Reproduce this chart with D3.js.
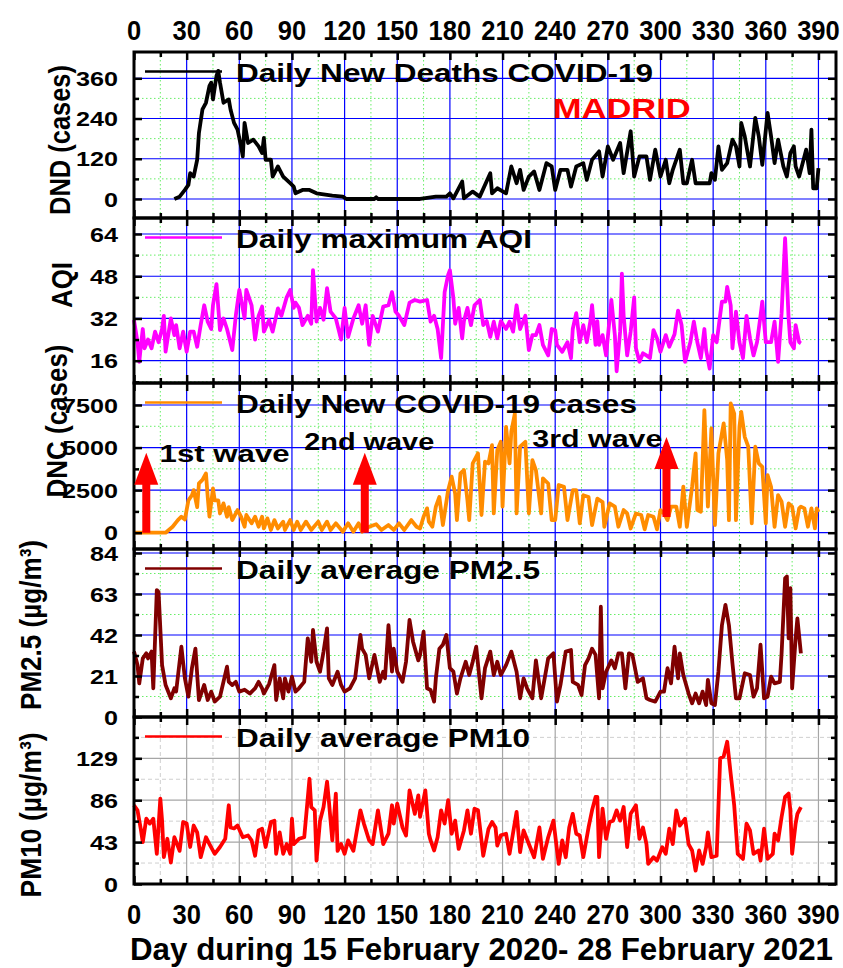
<!DOCTYPE html>
<html>
<head>
<meta charset="utf-8">
<script src="https://cdn.jsdelivr.net/npm/d3@7"></script>
<style>
body { margin: 0; background: #fff; }
text { font-family: "Liberation Sans", Arial, sans-serif; font-weight: bold; }
</style>
</head>
<body>
<div id="chart"></div>
<script>
// datos: [dia, valor]
const dndData = [[23,0],[26,7],[29,27],[31,42],[32,77],[34,67],[36,117],[37,197],[39,267],[41,287],[43,337],[44,347],[45,297],[47,367],[48,382],[49,347],[51,287],[54,297],[55,267],[57,227],[59,207],[61,157],[62,127],[63,227],[65,167],[68,177],[71,157],[73,137],[74,182],[75,117],[78,117],[79,67],[82,97],[85,67],[89,47],[91,37],[92,17],[96,27],[100,27],[104,17],[113,10],[119,7],[121,0],[137,0],[138,5],[139,0],[163,0],[172,7],[178,7],[180,17],[182,2],[187,52],[188,2],[193,22],[197,7],[203,77],[204,17],[207,32],[212,17],[215,97],[218,47],[220,87],[222,27],[225,67],[228,82],[231,27],[235,107],[238,97],[240,27],[243,87],[247,87],[249,37],[252,97],[256,107],[258,57],[261,117],[265,142],[267,67],[270,157],[273,117],[277,167],[279,77],[283,202],[285,67],[288,127],[292,127],[294,57],[297,147],[300,67],[303,117],[305,47],[307,87],[311,147],[313,47],[315,47],[318,117],[320,47],[328,47],[329,77],[331,57],[333,157],[335,87],[338,107],[341,177],[343,157],[345,97],[346,227],[348,187],[351,97],[354,242],[356,187],[358,102],[361,257],[363,187],[365,107],[367,177],[370,97],[372,67],[374,137],[376,157],[377,97],[379,67],[383,147],[385,77],[386,207],[387,32],[389,32],[390,92]]

const aqiData = [[0,31.4],[2,23],[3,15.6],[4,22],[5,28],[6,20.7],[8,24],[10,20.7],[12,27],[14,23],[16,28],[17,33],[18,19.4],[21,32],[23,25.7],[24,29.5],[26,20.7],[28,27],[30,19.4],[32,27],[34,27],[36,21.3],[38,29.5],[40,37],[42,30.8],[44,28],[45,37],[47,45],[49,27.6],[51,32],[53,28],[56,20],[58,33],[60,42.8],[63,32],[64,42.8],[67,37],[69,24],[71,33],[73,36.5],[74,27],[77,31.4],[79,27],[82,35.8],[84,33],[87,40],[89,42.8],[91,36],[92,38],[94,36],[96,29.5],[99,33],[101,30],[102,50.3],[104,30.8],[106,36],[108,31.5],[110,43.5],[112,34.6],[115,32],[118,24],[120,36],[122,25],[125,32],[128,37],[130,30],[132,37],[134,22],[136,33],[139,27],[142,36.5],[145,37],[147,42],[149,34.6],[151,33],[154,29.5],[157,38],[160,39],[163,38.4],[167,39],[169,30.8],[171,33],[173,28],[175,17],[177,42],[179,48.5],[180,50.3],[182,39.6],[183,30],[185,36],[187,24.5],[188,31],[190,36],[192,29.5],[194,37],[197,39],[199,29.5],[201,31],[203,25],[205,30.8],[207,24.5],[209,31],[212,28],[214,30.8],[216,27],[218,37],[220,28],[223,33],[225,20],[227,25.7],[229,25.7],[231,29.5],[233,22],[236,18],[238,28],[240,27.5],[241,22],[244,19.4],[247,23],[249,17],[250,28],[252,34],[254,23],[256,29.5],[258,23],[260,30.8],[261,37],[263,22],[264,31],[265,22],[267,25.7],[269,18],[272,39],[274,25.7],[275,12],[277,27],[278,49],[279,33],[281,18],[283,27],[285,40],[286,20.7],[288,15.6],[290,18.8],[292,18],[294,17],[296,27.6],[298,24.5],[300,19.4],[303,25.7],[305,21.3],[308,26],[310,35],[312,29.5],[314,15.6],[317,23],[319,30.8],[321,23],[323,17],[325,28],[326,20],[328,13],[330,25.7],[332,23],[335,38.4],[337,38.4],[338,44],[340,37],[341,20.7],[343,34.6],[345,23],[347,17],[349,33],[351,24.5],[353,18],[355,23],[357,33],[358,38.4],[360,23],[363,23],[365,30.8],[367,15.6],[369,34],[371,62.4],[373,32],[374,23],[376,20.7],[377,29.5],[379,23],[380,22.6]]

const dncData = [[0,0],[18,0],[22,350],[25,740],[27,940],[29,780],[31,1900],[33,2200],[34,2500],[36,1500],[37,2900],[39,3100],[41,3480],[42,2100],[43,940],[45,2600],[46,1900],[48,1900],[49,1130],[51,1720],[53,940],[54,1500],[56,740],[59,1330],[61,940],[63,350],[64,1040],[67,550],[69,940],[71,350],[73,940],[74,250],[76,840],[78,160],[80,740],[82,250],[85,650],[86,160],[89,740],[91,160],[93,650],[95,160],[98,650],[101,160],[105,650],[107,160],[110,650],[112,160],[115,550],[119,60],[122,550],[125,60],[128,550],[130,60],[134,350],[138,500],[141,160],[145,450],[148,160],[151,550],[154,160],[158,740],[161,350],[163,250],[165,940],[167,1430],[168,650],[170,350],[172,1530],[174,2100],[176,450],[179,2500],[181,3290],[183,2300],[184,740],[186,3480],[188,3680],[190,1900],[191,740],[193,4070],[194,4260],[196,4660],[198,1040],[200,4170],[202,4070],[204,5140],[205,1130],[207,4850],[209,5340],[210,1530],[212,6220],[214,4070],[215,5930],[217,7000],[218,1130],[220,5050],[223,5340],[225,1130],[227,4260],[229,3680],[232,1130],[233,3190],[236,2890],[238,740],[240,740],[242,2800],[245,2700],[247,740],[250,2500],[252,2500],[254,550],[256,2200],[259,2100],[261,450],[264,2000],[267,1800],[268,350],[271,1720],[274,1530],[276,350],[279,1330],[281,1130],[283,250],[286,1130],[289,1040],[291,200],[293,1040],[296,940],[298,200],[300,1330],[302,1130],[304,740],[306,1530],[309,1530],[311,350],[313,2700],[315,350],[318,2700],[320,4660],[321,1330],[323,1230],[325,7200],[327,1530],[329,6120],[331,450],[333,4660],[335,5830],[336,6420],[338,4260],[339,740],[340,7590],[342,7000],[343,740],[345,6220],[346,7100],[348,5630],[350,5050],[352,550],[354,5050],[356,4070],[358,3870],[360,550],[361,3380],[363,2700],[365,350],[367,2210],[369,1820],[371,350],[373,1720],[375,1530],[377,250],[379,1430],[380,1530],[382,1430],[384,350],[386,1430],[388,250],[389,1430],[390,1230]]

const pm25Data = [[0,33.5],[2,26.6],[3,17.2],[5,30],[7,32.6],[8,30],[10,33.5],[11,14.7],[13,65],[14,64],[16,26.6],[18,16.4],[21,9.6],[23,14.7],[24,13],[27,36],[29,19.8],[31,10.4],[33,25],[35,35],[37,8.7],[40,16.4],[42,8.7],[44,13],[46,7.9],[49,10.4],[53,25.8],[54,18],[56,16.4],[58,18],[60,13],[63,14],[66,12],[69,14.7],[71,18],[73,14.7],[74,12],[77,17],[80,26.6],[81,8.7],[83,19.8],[85,9.6],[86,19.8],[88,13],[90,20.7],[92,13],[94,14.7],[97,18],[99,40.3],[101,28.3],[102,44.6],[104,28.3],[106,23.2],[108,33.5],[110,45.4],[111,19.8],[113,16.4],[116,23.2],[118,16.4],[120,13],[123,14.7],[126,19.8],[129,42],[130,35],[132,31.8],[134,19.8],[137,31.8],[140,18],[142,23.2],[143,19.8],[145,47],[147,23.2],[148,35],[150,23.2],[153,18],[155,28.3],[157,49.7],[159,38.6],[162,29],[163,31.8],[165,43.7],[167,14.7],[169,13.8],[171,7.9],[172,19.8],[174,35],[176,37],[178,42],[180,25],[182,23.2],[184,12],[186,19.8],[189,28.3],[191,21.5],[193,28.3],[195,36],[198,9.6],[200,25],[203,33.5],[205,21.5],[207,28.3],[209,21.5],[212,26.6],[215,33.5],[218,23.2],[220,9.6],[222,19.8],[224,14.7],[227,9.6],[229,29],[232,9.6],[234,19.8],[236,30],[239,32.6],[241,7.9],[243,16.4],[246,33.5],[249,34.3],[250,18],[253,16.4],[255,11.3],[257,26.6],[259,30],[261,35],[263,31.8],[265,9.6],[266,56.5],[267,14.7],[269,23.2],[272,29],[274,25],[276,32.6],[278,32.6],[280,14.7],[282,32.6],[284,31.8],[287,18],[290,19.8],[292,9.6],[294,8.7],[297,7.9],[300,13],[302,13],[304,25],[306,17.2],[308,36],[310,19.8],[311,32.6],[313,21.5],[316,12],[318,7],[320,12],[322,7],[324,13],[326,6.1],[327,19],[329,7],[331,6.1],[333,23.2],[335,47],[337,57.4],[339,47],[341,27.5],[343,9.6],[345,9.6],[348,22.4],[351,21.5],[353,10.4],[355,14.7],[357,37],[359,9.6],[361,10.4],[363,20.7],[365,17.2],[368,18],[369,32.6],[371,71],[372,72],[373,40.3],[374,66],[375,14.7],[377,40.3],[378,50.5],[380,32.6]]

const pm10Data = [[0,80.8],[2,75.6],[4,55],[5,43],[7,67],[9,62],[11,67],[13,31],[15,87.7],[16,65],[17,27.5],[19,46.4],[21,22],[23,48],[26,34],[28,63.6],[30,62],[32,38],[34,60],[36,53],[38,27.5],[41,48],[43,41],[46,31],[49,38],[52,46.4],[54,80.8],[55,58],[57,57],[59,60],[62,48],[65,49.8],[67,44.7],[69,29],[71,55],[73,56.7],[75,38],[78,63.6],[80,65],[81,31],[83,53],[85,31],[87,41],[89,31],[90,67],[91,41],[94,46.4],[97,48],[100,108],[101,79],[103,75.6],[104,24],[106,65],[108,79],[110,105],[111,86],[113,44.7],[115,92.8],[116,34],[118,41],[120,31],[122,44.7],[125,34],[129,75.6],[131,62],[134,44.7],[136,41],[139,75.6],[142,41],[145,51.6],[147,80.8],[148,62],[150,82.5],[153,58],[155,49.8],[157,96],[160,72],[162,91],[163,68.8],[166,96],[168,51.6],[169,44.7],[171,34.4],[173,48],[175,75.6],[177,62],[179,86],[181,51.6],[183,65],[185,36],[188,55],[190,75.6],[192,51.6],[194,77.3],[196,75.6],[199,29],[202,56.7],[204,63.6],[206,58],[207,39.5],[209,50],[212,51.6],[214,31],[218,74],[220,32.7],[222,55],[225,41],[228,27.5],[231,58],[233,25.8],[236,48],[239,65],[242,20.6],[244,44.7],[246,27.5],[248,58],[250,72],[252,51.6],[254,49.8],[256,27.5],[259,58],[261,75.6],[263,89.4],[264,89.4],[265,27.5],[267,77.3],[269,46.4],[271,63.6],[273,65],[275,75.6],[277,65],[279,79],[281,37.8],[283,72],[286,80.8],[288,46.4],[290,58],[292,41],[293,20.6],[296,27.5],[298,24],[301,37.8],[303,31],[305,56.7],[307,41],[309,75.6],[311,60],[314,67],[316,41],[318,34.4],[320,13.8],[322,34.4],[324,20.6],[326,37.8],[327,53],[329,27.5],[332,29],[334,129],[336,131],[338,146],[340,113],[342,80.8],[344,31],[347,25.8],[349,62],[351,55],[353,31],[356,34.4],[357,24],[359,56.7],[361,25.8],[364,31],[365,51.6],[367,44.7],[369,68.8],[371,89.4],[373,92.8],[374,75.6],[375,31],[377,62],[378,72],[380,79]]

// ticks
const xTicks = [0,30,60,90,120,150,180,210,240,270,300,330,360,390]
const xMinor = [15,45,75,105,135,165,195,225,255,285,315,345,375]
const dndTicks = [0,120,240,360], dndMinor = [60,180,300]
const aqiTicks = [16,32,48,64], aqiMinor = [8,24,40,56]
const dncTicks = [0,2500,5000,7500], dncMinor = [1250,3750,6250]
const pm25Ticks = [0,21,42,63,84], pm25Minor = [10.5,31.5,52.5,73.5]
const pm10Ticks = [0,43,86,129], pm10Minor = [21.5,64.5,107.5,150.5]

// flechas de las olas: [dia, desde, hasta]
const waveArrows = [[7,0,4700],[131.5,0,4700],[303.4,920,5620]]
const waveLabels = [["1st wave",14.6,4150],["2nd wave",97,4860],["3rd wave",227,5030]]

const width = 843, height = 968
const margin = {left: 134, right: 836}

const svg = d3.select("#chart").append("svg").attr("width", width).attr("height", height)

const x = d3.scaleLinear().domain([0, 400]).range([margin.left, margin.right])

const panels = [
  {data: dndData, color: "#000000", legend: "Daily New Deaths COVID-19", legendW: 417, top: 52, bottom: 218,
   domain: [-56.7, 438.4], ticks: dndTicks, minor: dndMinor, title: "DND (cases)", titleX: 70, titleY: 140, titleW: 150},
  {data: aqiData, color: "#ff00ff", legend: "Daily maximum AQI", legendW: 296, top: 218, bottom: 383,
   domain: [7.55, 70.06], ticks: aqiTicks, minor: aqiMinor, title: "AQI", titleX: 72, titleY: 285, titleW: 46},
  {data: dncData, color: "#ff8c00", legend: "Daily New COVID-19 cases", legendW: 401, top: 383, bottom: 549,
   domain: [-957, 8792], ticks: dncTicks, minor: dncMinor, title: "DNC (cases)", titleX: 67, titleY: 421, titleW: 153},
  {data: pm25Data, color: "#800000", legend: "Daily average PM2.5", legendW: 304, top: 549, bottom: 717,
   domain: [0, 86.05], ticks: pm25Ticks, minor: pm25Minor, title: "PM2.5 (\u00b5g/m\u00b3)", titleX: 41, titleY: 625, titleW: 170},
  {data: pm10Data, color: "#ff0000", legend: "Daily average PM10", legendW: 294, top: 717, bottom: 884,
   domain: [0, 171.4], ticks: pm10Ticks, minor: pm10Minor, title: "PM10 (\u00b5g/m\u00b3)", titleX: 41, titleY: 815, titleW: 165, gray: true}
]

function drawPanel(p, i) {
  const y = d3.scaleLinear().domain(p.domain).range([p.bottom, p.top])
  p.y = y
  const g = svg.append("g")
  const majorColor = p.gray ? "#a6a6a6" : "#0000ff"
  const minorColor = p.gray ? "#cfcfcf" : "#66ee66"
  const minorDash = p.gray ? "4,3" : "1.5,2.5"

  // rejilla secundaria
  g.selectAll(".vmin").data(xMinor).join("line")
    .attr("x1", d => x(d)).attr("x2", d => x(d)).attr("y1", p.top).attr("y2", p.bottom)
    .attr("stroke", minorColor).attr("stroke-dasharray", minorDash)
  g.selectAll(".hmin").data(p.minor).join("line")
    .attr("x1", margin.left).attr("x2", margin.right).attr("y1", d => y(d)).attr("y2", d => y(d))
    .attr("stroke", minorColor).attr("stroke-dasharray", minorDash)
  // rejilla principal
  g.selectAll(".vmaj").data(xTicks.slice(1)).join("line")
    .attr("x1", d => x(d)).attr("x2", d => x(d)).attr("y1", p.top).attr("y2", p.bottom)
    .attr("stroke", majorColor).attr("stroke-width", 1.2)
  g.selectAll(".hmaj").data(p.ticks).join("line")
    .attr("x1", margin.left).attr("x2", margin.right).attr("y1", d => y(d)).attr("y2", d => y(d))
    .attr("stroke", majorColor).attr("stroke-width", 1.2)

  // serie
  g.append("path").datum(p.data)
    .attr("fill", "none").attr("stroke", p.color).attr("stroke-width", 3.8)
    .attr("stroke-linejoin", "round")
    .attr("d", d3.line().x(d => x(d[0])).y(d => y(d[1])))

  // ticks del marco (hacia dentro)
  const tickAxis = (axis, vals, size) => axis.tickValues(vals).tickSizeInner(-size).tickSizeOuter(0).tickFormat("")
  const frame = g.append("g").attr("class", "frame")
  frame.append("g").attr("transform", `translate(0,${p.bottom})`).call(tickAxis(d3.axisBottom(x), xTicks, 8))
  frame.append("g").attr("transform", `translate(0,${p.bottom})`).call(tickAxis(d3.axisBottom(x), xMinor, 5))
  frame.append("g").attr("transform", `translate(0,${p.top})`).call(tickAxis(d3.axisTop(x), xTicks, 8))
  frame.append("g").attr("transform", `translate(0,${p.top})`).call(tickAxis(d3.axisTop(x), xMinor, 5))
  frame.append("g").attr("transform", `translate(${margin.right},0)`).call(tickAxis(d3.axisRight(y), p.ticks, 8))
  frame.append("g").attr("transform", `translate(${margin.right},0)`).call(tickAxis(d3.axisRight(y), p.minor, 5))
  frame.append("g").attr("transform", `translate(${margin.left},0)`).call(tickAxis(d3.axisLeft(y), p.minor, 5))
  frame.append("g").attr("transform", `translate(${margin.left},0)`)
    .call(d3.axisLeft(y).tickValues(p.ticks).tickFormat(d => String(d)).tickSizeInner(-8).tickSizeOuter(0).tickPadding(16))
  frame.selectAll("path.domain").remove()
  frame.selectAll("line").attr("stroke", "#000").attr("stroke-width", 2.5)
  frame.selectAll("text")
    .style("font-size", "20px").style("font-family", "Liberation Sans, Arial, sans-serif").style("font-weight", "bold")
    .attr("fill", "#000").attr("dy", "0.36em")
    .attr("textLength", function() { return this.textContent.length * 14 })
    .attr("lengthAdjust", "spacingAndGlyphs")

  g.append("rect").attr("x", margin.left).attr("y", p.top)
    .attr("width", margin.right - margin.left).attr("height", p.bottom - p.top)
    .attr("fill", "none").attr("stroke", "#000").attr("stroke-width", 3)

  // leyenda
  g.append("line").attr("x1", 145).attr("x2", 222).attr("y1", p.top + 19.5).attr("y2", p.top + 19.5)
    .attr("stroke", p.color).attr("stroke-width", 2.4)
  g.append("text").attr("x", 236).attr("y", p.top + 29.5).text(p.legend)
    .style("font-size", "25px").attr("textLength", p.legendW).attr("lengthAdjust", "spacingAndGlyphs")

  // titulo del eje y
  svg.append("text")
    .attr("transform", `translate(${p.titleX},${p.titleY}) rotate(-90)`)
    .attr("text-anchor", "middle").style("font-size", "30px")
    .attr("textLength", p.titleW).attr("lengthAdjust", "spacingAndGlyphs")
    .text(p.title)
}

panels.forEach(drawPanel)

// etiquetas del eje x arriba y abajo
function xLabels(yPos) {
  svg.append("g").selectAll("text").data(xTicks).join("text")
    .attr("x", d => x(d)).attr("y", yPos).attr("text-anchor", "middle")
    .style("font-size", "27px")
    .attr("textLength", d => String(d).length * 14.2).attr("lengthAdjust", "spacingAndGlyphs")
    .text(d => d)
}
xLabels(40)
xLabels(924)

svg.append("text").attr("x", 130).attr("y", 960).style("font-size", "31px")
  .attr("textLength", 703).attr("lengthAdjust", "spacingAndGlyphs")
  .text("Day during 15 February 2020- 28 February 2021")

// MADRID
const p1 = panels[0]
svg.append("text").attr("x", x(238.6)).attr("y", p1.y(241.6)).style("font-size", "28px")
  .attr("fill", "#ff0000").attr("textLength", 138).attr("lengthAdjust", "spacingAndGlyphs").text("MADRID")

// flechas y olas en el panel DNC
const p3 = panels[2]
svg.append("g").selectAll("path").data(waveArrows).join("path")
  .attr("fill", "#ff0000")
  .attr("d", d => {
    const cx = x(d[0]), yb = p3.y(d[1]), yt = p3.y(d[2])
    return `M${cx-4},${yb} L${cx-4},${yt+32} L${cx-12},${yt+32} L${cx},${yt} L${cx+12},${yt+32} L${cx+4},${yt+32} L${cx+4},${yb} Z`
  })
svg.append("g").selectAll("text").data(waveLabels).join("text")
  .attr("x", d => x(d[1])).attr("y", d => p3.y(d[2]))
  .style("font-size", "23px").attr("textLength", 130).attr("lengthAdjust", "spacingAndGlyphs")
  .text(d => d[0])
</script>
</body>
</html>
